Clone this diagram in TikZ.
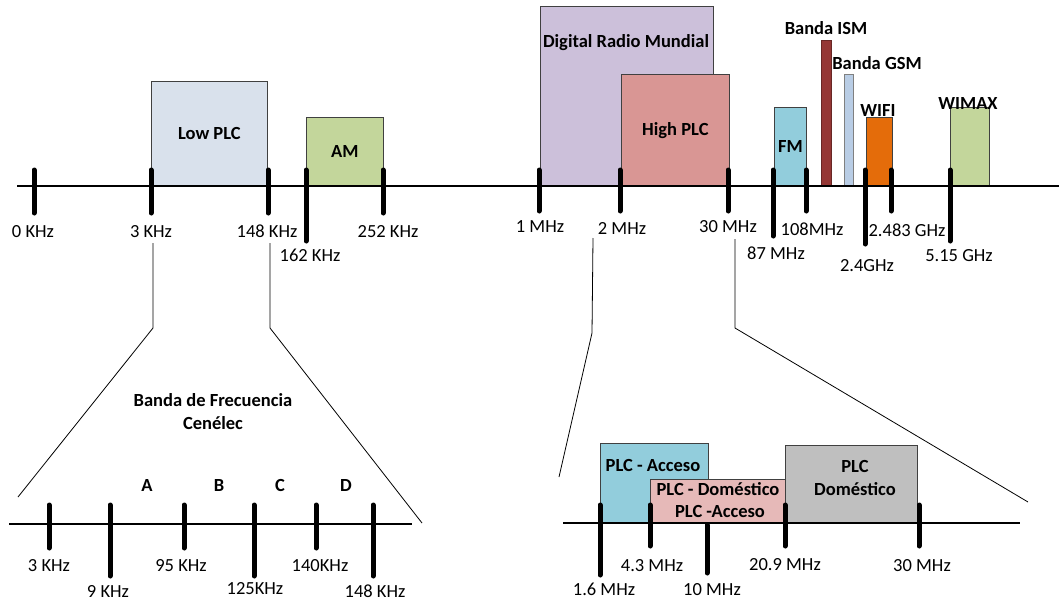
\documentclass[tikz,border=0pt]{standalone}
\usepackage{fontspec}
\setmainfont{Carlito}
\usetikzlibrary{positioning}

\definecolor{lowplc}{HTML}{D9E1EC}
\definecolor{amgreen}{HTML}{C3D69B}
\definecolor{drm}{HTML}{CCC0DA}
\definecolor{highplc}{HTML}{D99694}
\definecolor{fmblue}{HTML}{92CDDC}
\definecolor{ism}{HTML}{953735}
\definecolor{gsm}{HTML}{B9CDE5}
\definecolor{wifi}{HTML}{E46C0A}
\definecolor{mixed}{HTML}{E6B9B8}
\definecolor{domgray}{HTML}{BFBFBF}

\begin{document}
\begin{tikzpicture}[x=1pt, y=-1pt, font=\fontsize{18.5}{22}\selectfont]
        \tikzstyle{band} = [rectangle, draw=black!75, line width=0.8pt, anchor=south west, inner sep=0pt, font=\fontsize{18.5}{22}\selectfont\bfseries]
        \tikzstyle{tag} = [inner sep=0pt, anchor=base, font=\fontsize{18.5}{22}\selectfont\bfseries]
        \tikzstyle{freq} = [inner sep=0pt, anchor=base]
        \tikzstyle{axis} = [line width=2.6pt]
        \tikzstyle{tick} = [line width=5pt, line cap=round]
        \tikzstyle{zoomline} = [line width=0.8pt]

        \useasboundingbox (0,0) rectangle (1059,602);

        % upper spectrum
        \node [band, fill=lowplc, minimum width=116pt, minimum height=104pt] (lowplc) at (151,186) {\raisebox{-2pt}{Low PLC}};
        \node [band, fill=amgreen, minimum width=77pt, minimum height=68pt] (am) at (306,186) {\raisebox{-6pt}{AM}};
        \node [band, fill=drm, minimum width=173pt, minimum height=179pt] (drm) at (540,186) {};
        \node [band, fill=highplc, minimum width=108pt, minimum height=111pt] (highplc) at (621,186) {\raisebox{-2pt}{High PLC}};
        \node [band, fill=fmblue, minimum width=32pt, minimum height=78pt] (fm) at (774,186) {\raisebox{1pt}{FM}};
        \node [band, fill=ism, draw=ism!70!black, minimum width=10pt, minimum height=145pt] (ism) at (821,186) {};
        \node [band, fill=gsm, draw=gray, minimum width=9pt, minimum height=111pt] (gsm) at (844,186) {};
        \node [band, fill=wifi, minimum width=26pt, minimum height=68pt] (wifi) at (866,186) {};
        \node [band, fill=amgreen, minimum width=39pt, minimum height=78pt] (wimax) at (950,186) {};

        \node [tag] (drmtag) at (626,48) {Digital Radio Mundial};
        \node [tag] (ismtag) at (826,35) {Banda ISM};
        \node [tag] (gsmtag) at (877,69) {Banda GSM};
        \node [tag] (wifitag) at (878,116) {WIFI};
        \node [tag] (wimaxtag) at (968,109) {WIMAX};

        \coordinate (axisL) at (17,186);
        \coordinate (axisR) at (1059,186);
        \draw [axis] (axisL) -- (axisR);

        \foreach \x/\yb/\t/\lx/\ly [count=\i] in {34/213/0 KHz/33/237, 151/213/3 KHz/151/237, 268/213/148 KHz/267/237, 306/241/162 KHz/310/261, 383/213/252 KHz/388/237, 539/211/1 MHz/540/232, 620/211/2 MHz/622/234, 728/211/30 MHz/728/232, 773/236/87 MHz/776/259, 806/211/108MHz/812/235, 865/244/2.4GHz/867/271, 891/211/2.483 GHz/907/236, 950/241/5.15 GHz/959/261}
        {
            \draw [tick] (\x,170) -- (\x,\yb);
            \node [freq] (top\i) at (\lx,\ly) {\t};
        }

        % zoom lines
        \coordinate (zl1) at (153,243);
        \coordinate (zl2) at (153,328);
        \coordinate (zl3) at (18,497);
        \coordinate (zr1) at (270,243);
        \coordinate (zr2) at (270,328);
        \coordinate (zr3) at (422,523);
        \coordinate (ml1) at (593,238);
        \coordinate (ml2) at (592,333);
        \coordinate (ml3) at (559,477);
        \coordinate (mr1) at (735,239);
        \coordinate (mr2) at (735,328);
        \coordinate (mr3) at (1028,502);
        \draw [zoomline] (zl1) -- (zl2) -- (zl3);
        \draw [zoomline] (zr1) -- (zr2) -- (zr3);
        \draw [zoomline] (ml1) -- (ml2) -- (ml3);
        \draw [zoomline] (mr1) -- (mr2) -- (mr3);

        % Cenelec band
        \node [tag] (cen1) at (213,406) {Banda de Frecuencia};
        \node [tag] (cen2) at (213,429) {Cenélec};
        \node [tag] (bandA) at (147,491) {A};
        \node [tag] (bandB) at (219,491) {B};
        \node [tag] (bandC) at (280,491) {C};
        \node [tag] (bandD) at (346,491) {D};

        \coordinate (cenL) at (9,524);
        \coordinate (cenR) at (412,524);
        \draw [axis] (cenL) -- (cenR);

        \foreach \x/\yb/\t/\lx/\ly [count=\i] in {49/548/3 KHz/49/571, 110/576/9 KHz/108/597, 184/548/95 KHz/181/571, 254/576/125KHz/255/594, 316/548/140KHz/320/571, 373/576/148 KHz/375/597}
        {
            \draw [tick] (\x,505) -- (\x,\yb);
            \node [freq] (cen\i) at (\lx,\ly) {\t};
        }

        % high PLC detail
        \node [band, fill=fmblue, minimum width=108pt, minimum height=79pt] (acceso) at (600,523) {};
        \node [band, fill=mixed, minimum width=135pt, minimum height=43pt] (mixto) at (650,523) {};
        \node [band, fill=domgray, minimum width=132pt, minimum height=77pt] (domestico) at (785,523) {};

        \node [tag] (accesotag) at (653,471) {PLC - Acceso};
        \node [tag] (mixto1) at (718,495) {PLC - Doméstico};
        \node [tag] (mixto2) at (720,517) {PLC -Acceso};
        \node [tag] (dom1) at (855,472) {PLC};
        \node [tag] (dom2) at (855,495) {Doméstico};

        \coordinate (plcL) at (563,523);
        \coordinate (plcR) at (1020,523);
        \draw [axis] (plcL) -- (plcR);

        \foreach \x/\ya/\yb/\t/\lx/\ly [count=\i] in {600/505/575/1.6 MHz/604/595, 650/505/546/4.3 MHz/652/571, 707/525/573/10 MHz/712/595, 785/505/546/20.9 MHz/785/570, 919/505/546/30 MHz/922/571}
        {
            \draw [tick] (\x,\ya) -- (\x,\yb);
            \node [freq] (plc\i) at (\lx,\ly) {\t};
        }

    \end{tikzpicture}
\end{document}
